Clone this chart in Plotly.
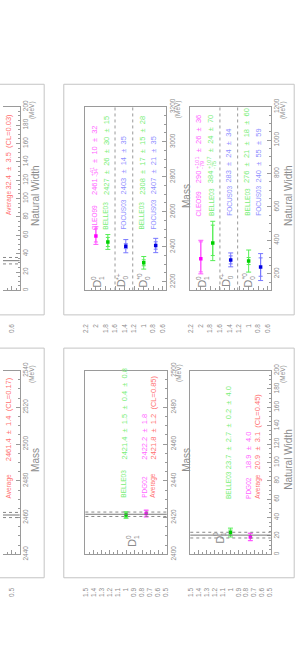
import math
import plotly.graph_objects as go

W, H = 307, 660

# ---------------- data ----------------
# broad states (top frame): rows along the (hidden) vertical axis of the original plot
row_pos_top = [2.0, 1.75, 1.375, 1.0, 0.75]
exp_top = ["CLEO99", "BELLE03", "FOCUS03", "BELLE03", "FOCUS03"]
mass_top = [2461, 2427, 2403, 2308, 2407]
mass_top_stat_up = [41, 26, 14, 17, 21]
mass_top_stat_dn = [34, 26, 14, 17, 21]
mass_top_syst1 = [10, 30, 35, 15, 35]
mass_top_syst2 = [32, 15, None, 28, None]
width_top = [290, 384, 283, 276, 240]
width_top_stat_up = [101, 107, 24, 21, 55]
width_top_stat_dn = [79, 75, 24, 21, 55]
width_top_syst1 = [26, 24, 34, 18, 59]
width_top_syst2 = [36, 70, None, 60, None]
separators_top = [1.6, 1.23]
state_labels_top = [("0", "1"), ("*+", "0"), ("*0", "0")]
state_label_rows_top = [1.97, 1.46, 1.01]
row_ticks_top = [2.2, 2.0, 1.8, 1.6, 1.4, 1.2, 1.0, 0.8, 0.6]

# D1(2420)^0 (bottom frame)
row_pos_bot = [1.0, 0.75]
avg_row_bot = 0.64
exp_bot = ["BELLE03", "PDG02"]
mass_bot = [2421.4, 2422.2]
mass_bot_stat = [1.5, 1.8]
mass_bot_syst1 = [0.4, None]
mass_bot_syst2 = [0.8, None]
mass_bot_avg = [2421.8, 1.2, 0.85]
width_bot = [23.7, 18.9]
width_bot_stat = [2.7, 4.0]
width_bot_syst1 = [0.2, None]
width_bot_syst2 = [4.0, None]
width_bot_avg = [20.9, 3.1, 0.45]
row_ticks_bot = [1.5, 1.4, 1.3, 1.2, 1.1, 1.0, 0.9, 0.8, 0.7, 0.6, 0.5]

# partially visible frames on the left edge
left_width_avg = [32.4, 3.5, 0.03]
left_mass_avg = [2461.4, 1.4, 0.17]

# axis ticks
width_ticks_small = [0, 20, 40, 60, 80, 100, 120, 140, 160, 180, 200]
mass_ticks_top = [2200, 2400, 2600, 2800, 3000, 3200]
width_ticks_top = [200, 400, 600, 800, 1000, 1200]
mass_ticks_bot = [2400, 2420, 2440, 2460, 2480, 2500]
mass_ticks_left = [2440, 2460, 2480, 2500, 2520, 2540]

# ---------------- style ----------------
FONT = "Liberation Sans, Arial, sans-serif"
AX = "#9a9a9a"
TXT = "#8c8c8c"
FRAME = "#c4c4c4"
COL_PT = {"CLEO99": "#ff00ff", "PDG02": "#ff00ff", "BELLE03": "#00d000", "FOCUS03": "#0000e0"}
COL_BAR = {"CLEO99": "#ff55ff", "PDG02": "#ff55ff", "BELLE03": "#55ee55", "FOCUS03": "#7777ff"}
COL_TXT = {"CLEO99": "#ff66ff", "PDG02": "#ff66ff", "BELLE03": "#77ee77", "FOCUS03": "#8f8fff",
           "Average": "#ff7070"}
NB = "\u00a0"
PM = NB * 2 + "±" + NB * 2
NAME_SIZE = 6.5
VAL_SIZE = 7.5
SCRIPT_SIZE = 5.5

# Arial / Liberation Sans advance widths (em)
CW = {"0": .556, "1": .556, "2": .556, "3": .556, "4": .556, "5": .556, "6": .556,
      "7": .556, "8": .556, "9": .556, ".": .278, NB: .278, " ": .278, "±": .549,
      "+": .584, "-": .333}


def tw(s, size):
    return sum(CW.get(c, .556) for c in s) * size


def X(px):
    return px / W


def Y(py):
    return 1 - py / H


def fmt(v):
    return ("%g" % v) if isinstance(v, int) else ("%.1f" % v)


def total(up, s1, s2):
    return math.sqrt(up ** 2 + (s1 or 0) ** 2 + (s2 or 0) ** 2)


fig = go.Figure()
annotations = []
shapes = []

# subplot geometry (pixels): (x0, x1, y_top, y_bottom)
geo = {
    1: (0, 17, 100, 288),
    2: (84, 166, 100, 288),
    3: (191, 273, 100, 288),
    4: (0, 17, 370, 558),
    5: (84, 167, 370, 558),
    6: (191, 273, 370, 558),
}
row_range = {
    1: [0.785, 0.436], 2: [2.22, 0.54], 3: [2.22, 0.54],
    4: [0.608, 0.404], 5: [1.505, 0.495], 6: [1.505, 0.495],
}
row_tickvals = {1: [0.6], 2: row_ticks_top, 3: row_ticks_top,
                4: [0.5], 5: row_ticks_bot, 6: row_ticks_bot}
val_range = {1: [0, 200], 2: [2150, 3200], 3: [100, 1200],
             4: [2440, 2540], 5: [2400, 2500], 6: [0, 200]}
val_ticks = {1: width_ticks_small, 2: mass_ticks_top, 3: width_ticks_top,
             4: mass_ticks_left, 5: mass_ticks_bot, 6: width_ticks_small}
val_minor = {1: 5, 2: 50, 3: 50, 4: 5, 5: 5, 6: 5}
row_minor = {1: 0.1, 2: 0.1, 3: 0.1, 4: 0.05, 5: 0.05, 6: 0.05}
titles = {1: "Natural Width", 2: "Mass", 3: "Natural Width",
          4: "Mass", 5: "Mass", 6: "Natural Width"}
title_dx = {1: 16, 2: 21, 3: 18, 4: 16, 5: 20, 6: 18}


def xa_of(i):
    return "x" if i == 1 else "x%d" % i


def ya_of(i):
    return "y" if i == 1 else "y%d" % i


layout_axes = {}
for i, (x0, x1, yt, yb) in geo.items():
    xs = "xaxis" if i == 1 else "xaxis%d" % i
    ys = "yaxis" if i == 1 else "yaxis%d" % i
    layout_axes[xs] = dict(
        domain=[X(x0), X(x1)], range=row_range[i], anchor=ya_of(i),
        showline=True, linecolor=AX, linewidth=1, mirror=True,
        ticks="inside", ticklen=4, tickcolor=AX, tickwidth=1,
        tickvals=row_tickvals[i], ticktext=[("%g" % t) for t in row_tickvals[i]],
        tickangle=-90, ticklabelstandoff=30,
        tickfont=dict(family=FONT, size=6.5, color=TXT),
        minor=dict(ticks="inside", ticklen=2, tickcolor=AX, dtick=row_minor[i],
                   tick0=0, showgrid=False),
        showgrid=False, zeroline=False, fixedrange=True,
    )
    layout_axes[ys] = dict(
        domain=[Y(yb), Y(yt)], range=val_range[i], anchor=xa_of(i),
        side="right", showline=True, linecolor=AX, linewidth=1,
        mirror=(i not in (1, 4)),
        ticks="inside", ticklen=4, tickcolor=AX, tickwidth=1,
        tickvals=val_ticks[i], ticktext=[str(t) for t in val_ticks[i]],
        tickangle=-90, tickfont=dict(family=FONT, size=6.5, color=TXT),
        minor=dict(ticks="inside", ticklen=2, tickcolor=AX, dtick=val_minor[i], tick0=0,
                   showgrid=False),
        showgrid=False, zeroline=False, fixedrange=True,
    )
    annotations.append(dict(xref="paper", yref="paper", x=X(x1 + title_dx[i]),
                            y=Y((yt + yb) / 2 - 3),
                            text=titles[i], textangle=-90, showarrow=False,
                            font=dict(family=FONT, size=10, color=TXT),
                            xanchor="center", yanchor="middle"))
    annotations.append(dict(xref="paper", yref="paper", x=X(x1 + 12), y=Y(yt + 3),
                            text="(MeV)", textangle=-90, showarrow=False,
                            font=dict(family=FONT, size=6.5, color=TXT),
                            xanchor="center", yanchor="middle"))

# outer frames
for (fx0, fx1, fy0, fy1) in [(-40, 42, 77, 313), (62, 297, 77, 313),
                             (-40, 42, 347, 582), (62, 297, 347, 582)]:
    shapes.append(dict(type="rect", xref="paper", yref="paper", x0=X(fx0), x1=X(fx1),
                       y0=Y(fy1), y1=Y(fy0), line=dict(color=FRAME, width=1)))


def add_points(i, rows, exps, vals, up, dn, s1, s2):
    for r, e, v, u, d, a, b in zip(rows, exps, vals, up, dn, s1, s2):
        tu = total(u, a, b)
        td = total(d, a, b)
        fig.add_trace(go.Scatter(x=[r], y=[v], xaxis=xa_of(i), yaxis=ya_of(i), mode="markers",
                                 marker=dict(size=1, color=COL_BAR[e]),
                                 error_y=dict(type="data", symmetric=False, array=[tu],
                                              arrayminus=[td], color=COL_BAR[e],
                                              thickness=1, width=2.5),
                                 showlegend=False, hoverinfo="skip"))
        fig.add_trace(go.Scatter(x=[r], y=[v], xaxis=xa_of(i), yaxis=ya_of(i), mode="markers",
                                 marker=dict(size=3.5, symbol="square", color=COL_PT[e]),
                                 error_y=dict(type="data", symmetric=False, array=[u],
                                              arrayminus=[d], color=COL_BAR[e],
                                              thickness=1, width=2),
                                 showlegend=False, hoverinfo="skip"))


def ann(i, r, ybot, text, size, color, xshift=0):
    annotations.append(dict(xref=xa_of(i), yref="paper", x=r, y=Y(ybot), xshift=xshift,
                            text=text, textangle=-90, showarrow=False,
                            font=dict(family=FONT, size=size, color=color),
                            xanchor="center", yanchor="bottom"))


def add_value(i, r, color, v, up, dn, s1, s2, val_b):
    rest = ""
    for s in (s1, s2):
        if s is not None:
            rest += PM + fmt(s)
    if dn is not None and up != dn:
        head = fmt(v) + NB
        ann(i, r, val_b, head, VAL_SIZE, color, -2)
        y_s = val_b - tw(head, VAL_SIZE)
        ann(i, r, y_s, "+" + fmt(up), SCRIPT_SIZE, color, -4.5)
        ann(i, r, y_s, "-" + fmt(dn), SCRIPT_SIZE, color, 0.5)
        y_r = y_s - max(tw("+" + fmt(up), SCRIPT_SIZE), tw("-" + fmt(dn), SCRIPT_SIZE))
        ann(i, r, y_r, rest, VAL_SIZE, color, -2)
    else:
        ann(i, r, val_b, fmt(v) + PM + fmt(up) + rest, VAL_SIZE, color, -2)


def add_rows(i, rows, exps, vals, up, dn, s1, s2, name_b, val_b):
    for r, e, v, u, d, a, b in zip(rows, exps, vals, up, dn, s1, s2):
        ann(i, r, name_b, e, NAME_SIZE, COL_TXT[e], -2)
        add_value(i, r, COL_TXT[e], v, u, d, a, b, val_b)


def add_average(i, avg, row, name_b, val_b):
    v, e, cl = avg
    shapes.append(dict(type="line", xref=xa_of(i) + " domain", yref=ya_of(i), x0=0, x1=1,
                       y0=v, y1=v, line=dict(color="#777777", width=1)))
    for s in (-1, 1):
        shapes.append(dict(type="line", xref=xa_of(i) + " domain", yref=ya_of(i), x0=0, x1=1,
                           y0=v + s * e, y1=v + s * e,
                           line=dict(color="#888888", width=1, dash="dot")))
    c = COL_TXT["Average"]
    ann(i, row, name_b, "Average", NAME_SIZE, c, -2)
    ann(i, row, val_b, fmt(v) + PM + fmt(e) + NB * 2 + "(CL=" + ("%.2f" % cl) + ")",
        VAL_SIZE, c, -2)


def add_state_label(i, row, sup, sub, yb):
    ann(i, row, yb, "D", 11, TXT, 0)
    ann(i, row, yb - 8, sup, 6.5, TXT, -4)
    ann(i, row, yb - 8, sub, 6.5, TXT, 4)


# ---- top frame: broad states ----
add_points(2, row_pos_top, exp_top, mass_top, mass_top_stat_up, mass_top_stat_dn,
           mass_top_syst1, mass_top_syst2)
add_rows(2, row_pos_top, exp_top, mass_top, mass_top_stat_up, mass_top_stat_dn,
         mass_top_syst1, mass_top_syst2, 228, 192)
add_points(3, row_pos_top, exp_top, width_top, width_top_stat_up, width_top_stat_dn,
           width_top_syst1, width_top_syst2)
add_rows(3, row_pos_top, exp_top, width_top, width_top_stat_up, width_top_stat_dn,
         width_top_syst1, width_top_syst2, 214, 180)
for i in (2, 3):
    for s in separators_top:
        shapes.append(dict(type="line", xref=xa_of(i), yref=ya_of(i) + " domain", x0=s, x1=s,
                           y0=0, y1=1, line=dict(color="#999999", width=1, dash="dot")))
    for r, (sup, sub) in zip(state_label_rows_top, state_labels_top):
        add_state_label(i, r, sup, sub, 287)

# ---- bottom frame: D1(2420)^0 ----
add_points(5, row_pos_bot, exp_bot, mass_bot, mass_bot_stat, mass_bot_stat,
           mass_bot_syst1, mass_bot_syst2)
add_rows(5, row_pos_bot, exp_bot, mass_bot, mass_bot_stat, mass_bot_stat,
         mass_bot_syst1, mass_bot_syst2, 502, 463)
add_average(5, mass_bot_avg, avg_row_bot, 502, 463)
add_points(6, row_pos_bot, exp_bot, width_bot, width_bot_stat, width_bot_stat,
           width_bot_syst1, width_bot_syst2)
add_rows(6, row_pos_bot, exp_bot, width_bot, width_bot_stat, width_bot_stat,
         width_bot_syst1, width_bot_syst2, 503, 473)
add_average(6, width_bot_avg, avg_row_bot, 503, 473)
add_state_label(5, 0.92, "0", "1", 552)
add_state_label(6, 1.14, "0", "1", 549)

# ---- left (cut) frames ----
add_average(1, left_width_avg, 0.621, 213, 187)
add_average(4, left_mass_avg, 0.512, 503, 465)

fig.update_layout(
    width=W, height=H, margin=dict(l=0, r=0, t=0, b=0),
    paper_bgcolor="white", plot_bgcolor="rgba(0,0,0,0)",
    showlegend=False, annotations=annotations, shapes=shapes,
    font=dict(family=FONT, color=TXT),
    **layout_axes,
)

fig.write_html("out.html", config={"displayModeBar": False, "staticPlot": True},
               post_script="document.body.style.margin='0';document.body.style.overflow='hidden';")
